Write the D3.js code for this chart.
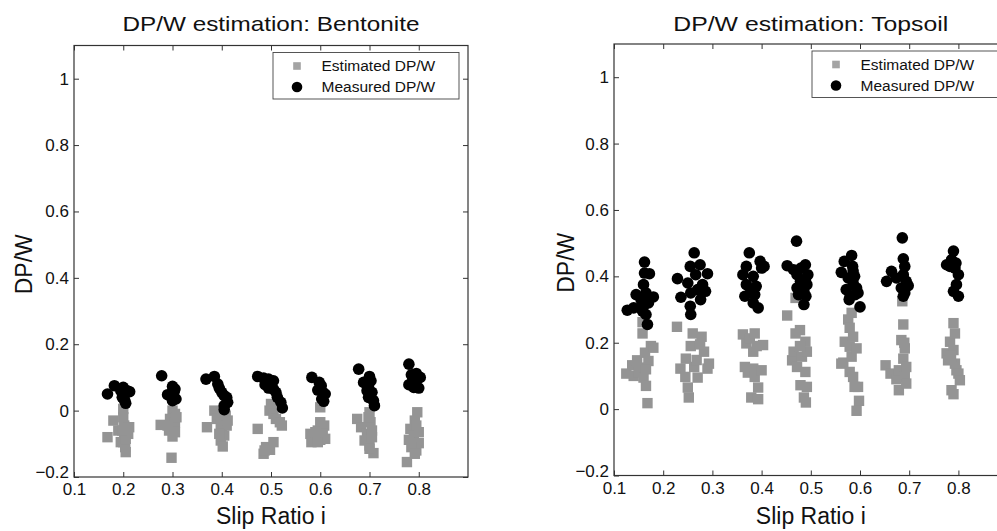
<!DOCTYPE html>
<html>
<head>
<meta charset="utf-8">
<script src="https://cdn.jsdelivr.net/npm/d3@7"></script>
<style>
  body { margin: 0; background: #fff; }
  svg { display: block; font-family: "Liberation Sans", Arial, Helvetica, sans-serif; }
</style>
</head>
<body>
<svg id="chart" width="997" height="531"></svg>
<script>
// values: [slip ratio, DP/W]
const bentoniteEstimated = [
  [0.168,-0.080],[0.180,-0.030],[0.190,-0.060],[0.195,-0.095],[0.200,0.005],[0.200,-0.020],[0.202,-0.045],[0.202,-0.070],[0.204,-0.110],[0.205,-0.125],[0.210,-0.070],[0.212,-0.050],[0.200,-0.095],[0.205,-0.085],[0.198,-0.060],
  [0.276,-0.043],[0.298,-0.142],[0.300,0.000],[0.305,-0.010],[0.295,-0.025],[0.305,-0.035],[0.300,-0.050],[0.293,-0.060],[0.305,-0.065],[0.300,-0.078],[0.308,-0.020],[0.290,-0.045],
  [0.370,-0.050],[0.385,0.000],[0.390,-0.025],[0.398,-0.040],[0.400,-0.055],[0.398,-0.090],[0.402,-0.108],[0.408,-0.015],[0.410,-0.045],[0.405,-0.075],[0.395,-0.070],[0.412,-0.030],[0.400,-0.010],
  [0.473,-0.055],[0.485,-0.130],[0.490,-0.110],[0.498,-0.118],[0.505,-0.095],[0.500,0.020],[0.497,0.000],[0.505,-0.010],[0.510,-0.025],[0.518,-0.035],[0.522,-0.045],[0.487,-0.120],
  [0.580,-0.070],[0.582,-0.095],[0.590,-0.080],[0.595,-0.060],[0.600,0.010],[0.600,-0.035],[0.608,-0.045],[0.605,-0.070],[0.600,-0.088],[0.610,-0.085],[0.595,-0.095],[0.590,-0.065],
  [0.675,-0.025],[0.683,-0.050],[0.690,-0.090],[0.695,-0.070],[0.700,-0.005],[0.702,-0.035],[0.705,-0.060],[0.700,-0.105],[0.708,-0.128],[0.705,-0.080],[0.698,-0.020],[0.700,-0.115],
  [0.776,-0.155],[0.797,-0.005],[0.792,-0.030],[0.783,-0.055],[0.790,-0.075],[0.780,-0.088],[0.800,-0.098],[0.795,-0.120],[0.785,-0.110],[0.800,-0.065],[0.792,-0.130],[0.795,-0.045]
];
const bentoniteMeasured = [
  [0.168,0.050],[0.182,0.075],[0.195,0.060],[0.200,0.070],[0.202,0.045],[0.203,0.030],[0.205,0.022],[0.208,0.060],[0.213,0.057],[0.198,0.040],
  [0.278,0.105],[0.300,0.073],[0.305,0.065],[0.290,0.048],[0.303,0.055],[0.300,0.030],[0.307,0.035],[0.298,0.040],
  [0.368,0.095],[0.385,0.103],[0.392,0.080],[0.395,0.068],[0.400,0.055],[0.405,0.045],[0.410,0.040],[0.412,0.025],[0.405,0.015],[0.405,0.003],
  [0.473,0.103],[0.485,0.098],[0.495,0.095],[0.505,0.090],[0.488,0.078],[0.495,0.068],[0.505,0.065],[0.510,0.055],[0.513,0.040],[0.520,0.025],[0.523,0.008],[0.500,0.080],
  [0.583,0.100],[0.598,0.085],[0.602,0.075],[0.595,0.062],[0.605,0.055],[0.610,0.050],[0.603,0.035],[0.607,0.028],
  [0.678,0.125],[0.700,0.103],[0.688,0.085],[0.698,0.075],[0.695,0.060],[0.705,0.055],[0.698,0.040],[0.708,0.030],[0.710,0.015],[0.703,0.090],
  [0.780,0.140],[0.785,0.108],[0.795,0.112],[0.803,0.100],[0.780,0.078],[0.790,0.070],[0.800,0.068],[0.795,0.090],[0.788,0.095]
];
const topsoilEstimated = [
  [0.125,0.107],[0.137,0.132],[0.140,0.100],[0.147,0.147],[0.150,0.110],[0.155,0.125],[0.158,0.228],[0.160,0.095],[0.163,0.170],[0.165,0.070],[0.168,0.018],[0.170,0.145],[0.175,0.190],[0.180,0.185],[0.158,0.262],[0.165,0.120],
  [0.228,0.248],[0.235,0.122],[0.245,0.097],[0.246,0.152],[0.250,0.065],[0.252,0.035],[0.256,0.190],[0.260,0.228],[0.263,0.127],[0.268,0.148],[0.278,0.218],[0.283,0.173],[0.290,0.122],[0.293,0.137],[0.270,0.095],[0.275,0.195],
  [0.362,0.225],[0.366,0.127],[0.369,0.198],[0.372,0.110],[0.376,0.213],[0.379,0.035],[0.383,0.173],[0.383,0.122],[0.386,0.228],[0.386,0.097],[0.390,0.190],[0.393,0.065],[0.393,0.030],[0.400,0.117],[0.403,0.193],
  [0.452,0.282],[0.462,0.147],[0.465,0.173],[0.469,0.228],[0.469,0.335],[0.472,0.127],[0.478,0.238],[0.479,0.072],[0.482,0.158],[0.486,0.035],[0.489,0.203],[0.489,0.112],[0.490,0.020],[0.492,0.173],[0.492,0.067],[0.478,0.190],
  [0.562,0.137],[0.566,0.140],[0.569,0.203],[0.576,0.270],[0.579,0.245],[0.579,0.188],[0.579,0.112],[0.583,0.158],[0.586,0.218],[0.586,0.097],[0.589,0.067],[0.593,0.183],[0.596,0.067],[0.598,0.025],[0.593,-0.005],[0.583,0.290],
  [0.652,0.132],[0.662,0.107],[0.674,0.090],[0.679,0.117],[0.679,0.057],[0.684,0.208],[0.686,0.325],[0.688,0.255],[0.688,0.152],[0.691,0.183],[0.691,0.097],[0.694,0.127],[0.694,0.077],[0.690,0.200],
  [0.776,0.168],[0.779,0.147],[0.783,0.203],[0.786,0.057],[0.790,0.259],[0.790,0.178],[0.790,0.045],[0.793,0.228],[0.793,0.137],[0.796,0.117],[0.800,0.107],[0.803,0.087],[0.785,0.160]
];
const topsoilMeasured = [
  [0.127,0.298],[0.140,0.305],[0.145,0.345],[0.155,0.330],[0.160,0.310],[0.160,0.375],[0.162,0.410],[0.162,0.443],[0.165,0.350],[0.165,0.285],[0.168,0.255],[0.172,0.408],[0.180,0.338],[0.170,0.320],[0.158,0.295],
  [0.229,0.393],[0.236,0.337],[0.250,0.380],[0.255,0.430],[0.256,0.350],[0.255,0.310],[0.256,0.285],[0.263,0.471],[0.266,0.405],[0.270,0.360],[0.275,0.435],[0.276,0.330],[0.286,0.355],[0.290,0.408],[0.280,0.375],
  [0.362,0.405],[0.366,0.340],[0.369,0.430],[0.369,0.375],[0.375,0.471],[0.383,0.400],[0.383,0.320],[0.386,0.345],[0.389,0.370],[0.393,0.305],[0.397,0.445],[0.400,0.425],[0.405,0.430],[0.378,0.355],
  [0.452,0.432],[0.465,0.420],[0.471,0.506],[0.472,0.405],[0.472,0.365],[0.475,0.345],[0.479,0.385],[0.486,0.355],[0.486,0.315],[0.489,0.435],[0.489,0.390],[0.490,0.340],[0.494,0.405],[0.480,0.425],[0.492,0.375],
  [0.562,0.412],[0.568,0.445],[0.572,0.360],[0.576,0.395],[0.580,0.340],[0.583,0.463],[0.585,0.430],[0.586,0.380],[0.589,0.400],[0.590,0.345],[0.593,0.365],[0.596,0.350],[0.600,0.308],[0.586,0.416],[0.578,0.330],
  [0.654,0.385],[0.664,0.415],[0.674,0.395],[0.684,0.365],[0.686,0.516],[0.688,0.453],[0.688,0.405],[0.691,0.430],[0.691,0.350],[0.694,0.385],[0.698,0.372],[0.688,0.340],
  [0.776,0.435],[0.783,0.430],[0.786,0.450],[0.790,0.476],[0.793,0.425],[0.800,0.405],[0.796,0.375],[0.790,0.355],[0.800,0.340],[0.795,0.440]
];

const xTicks = [0.1, 0.2, 0.3, 0.4, 0.5, 0.6, 0.7, 0.8];
const yTicks = [-0.2, 0, 0.2, 0.4, 0.6, 0.8, 1];
const legendLabels = ["Estimated DP/W", "Measured DP/W"];

const svg = d3.select("#chart");

function drawPanel(p) {
  const x = d3.scaleLinear().domain([0.1, 0.9]).range([p.x0, p.x1]);
  const y = d3.scaleLinear().domain([-0.2, 1.1]).range([p.y1, p.y0]);
  const g = svg.append("g");

  // ticks point inward on all four sides (matlab box style)
  const bottom = g.append("g")
    .attr("transform", `translate(0,${p.y1})`)
    .call(d3.axisBottom(x).tickValues(xTicks).tickSize(-5).tickPadding(6)
      .tickFormat(d3.format("")));
  const left = g.append("g")
    .attr("transform", `translate(${p.x0},0)`)
    .call(d3.axisLeft(y).tickValues(yTicks).tickSize(-5).tickPadding(5)
      .tickFormat(d => d === 0 ? "0" : d === 1 ? "1" : d3.format(".1f")(d)));
  g.append("g")
    .attr("transform", `translate(0,${p.y0})`)
    .call(d3.axisTop(x).tickValues(xTicks).tickSize(-5).tickFormat(""));
  g.append("g")
    .attr("transform", `translate(${p.x1},0)`)
    .call(d3.axisRight(y).tickValues(yTicks).tickSize(-5).tickFormat(""));

  g.selectAll(".domain").remove();
  g.selectAll(".tick line").attr("stroke", "#333");
  bottom.selectAll("text").attr("font-size", 17).attr("fill", "#111");
  left.selectAll("text").attr("font-size", 17).attr("fill", "#111")
    .attr("dy", d => d === -0.2 ? "0.05em" : "0.32em");

  g.append("rect")
    .attr("x", p.x0).attr("y", p.y0)
    .attr("width", p.x1 - p.x0).attr("height", p.y1 - p.y0)
    .attr("fill", "none").attr("stroke", "#333").attr("stroke-width", 1.2);

  // estimated first, measured drawn over it
  g.append("g").selectAll("rect")
    .data(p.est)
    .join("rect")
    .attr("x", d => x(d[0]) - 5.2)
    .attr("y", d => y(d[1]) - 5.2)
    .attr("width", 10.4).attr("height", 10.4)
    .attr("fill", "#949494");

  g.append("g").selectAll("circle")
    .data(p.meas)
    .join("circle")
    .attr("cx", d => x(d[0]))
    .attr("cy", d => y(d[1]))
    .attr("r", 5.8)
    .attr("fill", "#000");

  // title and axis labels
  g.append("text")
    .attr("x", (p.x0 + p.x1) / 2).attr("y", 31)
    .attr("text-anchor", "middle")
    .attr("font-size", 21)
    .attr("textLength", p.titleLen).attr("lengthAdjust", "spacingAndGlyphs")
    .attr("fill", "#111")
    .text(p.title);
  g.append("text")
    .attr("x", (p.x0 + p.x1) / 2).attr("y", 524)
    .attr("text-anchor", "middle")
    .attr("font-size", 23)
    .attr("fill", "#111")
    .text("Slip Ratio i");
  g.append("text")
    .attr("transform", `translate(${p.ylabelX},${(p.y0 + p.y1) / 2 + 3}) rotate(-90)`)
    .attr("text-anchor", "middle")
    .attr("dy", "0.35em")
    .attr("font-size", 23)
    .attr("fill", "#111")
    .text("DP/W");

  // legend
  const lg = g.append("g").attr("transform", `translate(${p.legend[0]},${p.legend[1]})`);
  lg.append("rect")
    .attr("width", p.legend[2]).attr("height", 46.5)
    .attr("fill", "#fff").attr("stroke", "#444").attr("stroke-width", 0.9);
  lg.append("rect")
    .attr("x", 24 - 3.8).attr("y", 13.5 - 3.8)
    .attr("width", 7.6).attr("height", 7.6)
    .attr("fill", "#a4a4a4");
  lg.append("circle")
    .attr("cx", 24).attr("cy", 34.5).attr("r", 5.3)
    .attr("fill", "#000");
  lg.selectAll("text.lbl")
    .data(legendLabels)
    .join("text")
    .attr("class", "lbl")
    .attr("x", 48.5)
    .attr("y", (d, i) => 18.8 + i * 21)
    .attr("font-size", 15.5)
    .attr("fill", "#111")
    .text(d => d);
}

const panels = [
  { title: "DP/W estimation: Bentonite", est: bentoniteEstimated, meas: bentoniteMeasured,
    x0: 74, x1: 468, y0: 45.5, y1: 477, titleLen: 297, ylabelX: 24, legend: [273, 52.5, 186] },
  { title: "DP/W estimation: Topsoil", est: topsoilEstimated, meas: topsoilMeasured,
    x0: 614, x1: 1007.6, y0: 44, y1: 475.5, titleLen: 275, ylabelX: 566, legend: [812, 51, 200] }
];
panels.forEach(drawPanel);
</script>
</body>
</html>
